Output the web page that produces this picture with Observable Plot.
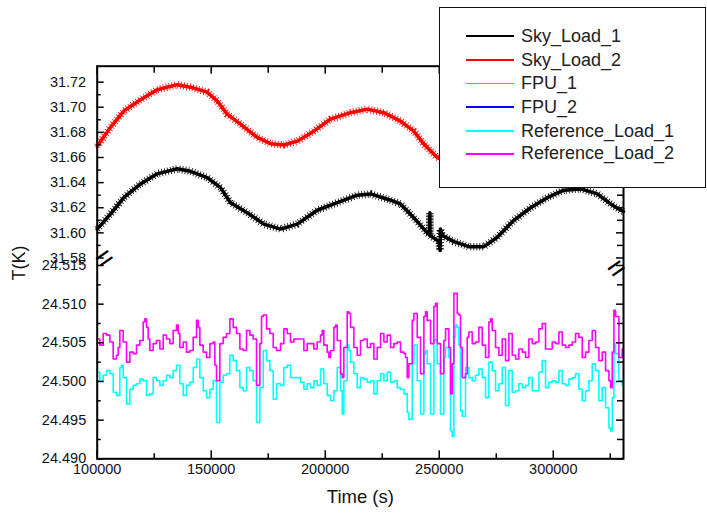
<!DOCTYPE html>
<html><head><meta charset="utf-8">
<script src="https://cdn.jsdelivr.net/npm/d3@7"></script>
<script src="https://cdn.jsdelivr.net/npm/@observablehq/plot@0.6"></script>
<style>
html,body{margin:0;padding:0;background:#fff;overflow:hidden}
#wrap{position:relative;width:707px;height:516px;font-family:"Liberation Sans",Arial,sans-serif}
#wrap svg{position:absolute;left:0;top:0}
#legend{position:absolute;left:439px;top:7px;width:265px;height:179px;border:1.5px solid #111;background:#fff}
.row{position:absolute;left:0;height:24px;display:flex;align-items:center}
.sw{width:48px;height:1.6px;margin-left:26px;margin-right:7px}
.lab{font-size:18px;color:#222;white-space:nowrap}
</style></head>
<body><div id="wrap"><div id="legend"></div></div>
<script>
// ---- series names / colours ----
const seriesNames = ["Sky_Load_1", "Sky_Load_2", "FPU_1", "FPU_2", "Reference_Load_1", "Reference_Load_2"];
const seriesColors = ["#000000", "#ff0000", "#00ff00", "#0000ff", "#00ffff", "#ff00ff"];

// ---- axis ticks ----
const xTicksMajor = [100000, 150000, 200000, 250000, 300000];
const xTicksMinor = [125000, 175000, 225000, 275000, 325000];
const upperTicksMajor = [31.58, 31.60, 31.62, 31.64, 31.66, 31.68, 31.70, 31.72];
const upperTicksMinor = [31.59, 31.61, 31.63, 31.65, 31.67, 31.69, 31.71];
const lowerTicksMajor = [24.490, 24.495, 24.500, 24.505, 24.510, 24.515];
const lowerTicksMinor = [24.4925, 24.4975, 24.5025, 24.5075, 24.5125];
const xDomain = [100000, 330800];
const upperDomain = [31.5764, 31.7327];
const lowerDomain = [24.490, 24.515];

// ---- data: [time (s), T (K)] ----
const skyLoad1 = [
[100000,31.603],[105833,31.615],[111667,31.628],[119000,31.639],[126300,31.647],[135100,31.651],
[140900,31.649],[148250,31.644],[154100,31.636],[158450,31.624],[165800,31.616],[173050,31.607],
[180400,31.603],[187700,31.607],[196500,31.618],[205250,31.624],[214050,31.630],[219900,31.631],
[228650,31.626],[233000,31.623],[238850,31.612],[244750,31.600],[245800,31.598],[245880,31.616],
[245960,31.598],[249900,31.593],[250400,31.586],[250500,31.603],[251300,31.598],[256400,31.593],
[263000,31.589],[269550,31.589],[275450,31.5965],[282700,31.610],[290050,31.620],[297350,31.628],
[304650,31.634],[312100,31.635],[319300,31.631],[325150,31.623],[329550,31.618],[330800,31.617]
];
const skyLoad2 = [
[100000,31.669],[105833,31.684],[111667,31.697],[119000,31.706],[126300,31.714],[135100,31.718],
[140900,31.716],[148250,31.712],[152650,31.705],[157000,31.6945],[162850,31.6866],[170200,31.676],
[176000,31.671],[181850,31.670],[187700,31.673],[195000,31.681],[202300,31.6905],[211100,31.6957],
[218400,31.6985],[225700,31.6957],[233000,31.689],[238850,31.681],[243250,31.6707],[249100,31.660],
[255000,31.655]
];
const refLoad1 = [
[100000,24.5012],[101160,24.5001],[102620,24.5008],[104090,24.5014],[105550,24.5010],[107010,24.4986],
[108470,24.4982],[109930,24.5018],[110670,24.5021],[111400,24.5005],[112860,24.4971],[114320,24.4990],
[115780,24.4995],[117240,24.4997],[118710,24.5003],[120170,24.5001],[121630,24.4982],[123090,24.4984],
[124550,24.5005],[126020,24.5001],[127480,24.4995],[128940,24.5001],[130400,24.5008],[131860,24.5005],
[133330,24.5014],[134790,24.5021],[136250,24.4997],[137710,24.4982],[139170,24.4995],[140640,24.4999],
[142100,24.5018],[143560,24.5029],[145020,24.5005],[146480,24.4988],[147950,24.4979],[149410,24.4990],
[150870,24.5001],[152330,24.4947],[153790,24.4999],[155260,24.5008],[156720,24.5010],[158180,24.5034],
[159640,24.5027],[161100,24.5014],[162570,24.4992],[164030,24.4988],[165490,24.5018],[166950,24.5014],
[168410,24.5001],[169880,24.4947],[171340,24.4992],[172800,24.5040],[174260,24.5027],[175720,24.5014],
[177190,24.4977],[178650,24.4997],[180400,24.4995],[181860,24.5018],[183320,24.5021],[184780,24.5005],
[186240,24.5005],[187710,24.5005],[189170,24.4999],[190630,24.4990],[192090,24.4997],[193550,24.4992],
[195020,24.5001],[196480,24.4995],[197940,24.5016],[199400,24.4997],[200860,24.4982],[202330,24.4975],
[203790,24.4988],[205250,24.5018],[206710,24.4988],[207440,24.4958],[208170,24.5001],[209640,24.5047],
[210370,24.5040],[211100,24.5025],[212560,24.5010],[214020,24.4992],[215480,24.5005],[216950,24.5003],
[218410,24.4999],[219870,24.5001],[221330,24.4984],[222790,24.5001],[224260,24.5010],[225720,24.5001],
[227180,24.5012],[228640,24.4999],[230100,24.5001],[231570,24.4992],[233030,24.4990],[234490,24.4984],
[235950,24.4960],[236680,24.4951],[238150,24.5023],[238880,24.5047],[240340,24.5001],[241800,24.4958],
[243260,24.5036],[243990,24.5040],[244720,24.5023],[246190,24.4958],[247650,24.5053],[248380,24.5055],
[249110,24.5023],[250570,24.4958],[252030,24.5031],[252760,24.5044],[254220,24.5031],[254950,24.4936],
[255680,24.4929],[256420,24.5057],[257150,24.5073],[257880,24.5070],[258610,24.5047],[259340,24.4962],
[260070,24.4955],[261530,24.5018],[262990,24.5005],[264460,24.5001],[265920,24.5008],[267380,24.5016],
[268840,24.5005],[270300,24.4979],[271770,24.5025],[273230,24.5014],[274690,24.4988],[276150,24.4997],
[277610,24.5018],[279080,24.4969],[280540,24.5014],[282000,24.4986],[283460,24.4988],[284920,24.4997],
[286390,24.4992],[287850,24.4995],[289310,24.5005],[290770,24.4988],[292230,24.4988],[293700,24.5012],
[295160,24.5027],[296620,24.4992],[298080,24.4999],[299540,24.5001],[301010,24.4999],[302470,24.5014],
[303930,24.4997],[305390,24.4995],[306850,24.5003],[308320,24.5005],[309780,24.5010],[311240,24.4990],
[312700,24.4975],[314160,24.4988],[315630,24.5001],[317090,24.5023],[318550,24.5014],[320010,24.4975],
[321470,24.4992],[322940,24.4966],[324400,24.4940],[325130,24.4936],[325860,24.4979],[326590,24.5049],
[327320,24.5036],[328780,24.5001],[330250,24.4995],[330800,24.4997]
];
const refLoad2 = [
[100000,24.5055],[101160,24.5047],[102620,24.5062],[104090,24.5060],[105550,24.5051],[107010,24.5029],
[108470,24.5034],[109200,24.5044],[109930,24.5066],[110670,24.5066],[111400,24.5051],[112860,24.5025],
[114320,24.5038],[115780,24.5036],[117240,24.5047],[118710,24.5053],[120170,24.5077],[120900,24.5081],
[121630,24.5070],[122360,24.5055],[123090,24.5040],[124550,24.5049],[126020,24.5053],[127480,24.5042],
[128940,24.5060],[130400,24.5055],[131860,24.5049],[133330,24.5066],[134790,24.5073],[135520,24.5062],
[136250,24.5044],[137710,24.5051],[139170,24.5038],[140640,24.5040],[142100,24.5057],[143560,24.5079],
[144290,24.5070],[145020,24.5047],[146480,24.5038],[147950,24.5031],[149410,24.5049],[150870,24.5051],
[151600,24.5021],[152330,24.5001],[153790,24.5049],[155260,24.5057],[156720,24.5062],[158180,24.5081],
[159640,24.5070],[161100,24.5062],[162570,24.5042],[164030,24.5040],[165490,24.5066],[166950,24.5060],
[168410,24.5055],[169880,24.4995],[171340,24.5049],[172070,24.5084],[172800,24.5086],[174260,24.5068],
[175720,24.5062],[177190,24.5044],[178650,24.5040],[180400,24.5049],[181860,24.5068],[183320,24.5062],
[184780,24.5051],[186240,24.5055],[187710,24.5055],[189170,24.5055],[190630,24.5040],[192090,24.5049],
[193550,24.5049],[195020,24.5042],[196480,24.5051],[197940,24.5060],[198670,24.5066],[199400,24.5047],
[200860,24.5038],[201600,24.5031],[202330,24.5040],[203790,24.5070],[204520,24.5073],[205250,24.5053],
[206710,24.5010],[207440,24.5005],[208170,24.5044],[209640,24.5090],[210370,24.5088],[211100,24.5070],
[212560,24.5044],[214020,24.5034],[215480,24.5053],[216950,24.5055],[218410,24.5044],[219870,24.5049],
[221330,24.5029],[222790,24.5044],[224260,24.5062],[225720,24.5051],[227180,24.5060],[228640,24.5044],
[230100,24.5049],[231570,24.5051],[233030,24.5038],[234490,24.5036],[235220,24.5031],[235950,24.5005],
[236680,24.5023],[238150,24.5079],[238880,24.5088],[240340,24.5057],[241800,24.5010],[243260,24.5084],
[243990,24.5090],[244720,24.5079],[246190,24.5049],[247650,24.5097],[248380,24.5101],[249110,24.5049],
[250570,24.5010],[252030,24.5053],[252760,24.5068],[254220,24.5044],[254950,24.4984],[255680,24.5023],
[256420,24.5114],[257150,24.5114],[257880,24.5088],[258610,24.5086],[259340,24.5044],[260070,24.5005],
[261530,24.5010],[262260,24.5057],[262990,24.5064],[264460,24.5049],[265920,24.5051],[267380,24.5070],
[268840,24.5047],[270300,24.5031],[271770,24.5077],[272500,24.5081],[273230,24.5066],[274690,24.5044],
[276150,24.5034],[277610,24.5055],[279080,24.5027],[280540,24.5062],[282000,24.5034],[283460,24.5029],
[284920,24.5042],[286390,24.5038],[287850,24.5031],[289310,24.5055],[290770,24.5049],[292230,24.5051],
[293700,24.5068],[295160,24.5075],[296620,24.5042],[298080,24.5042],[299540,24.5051],[301010,24.5049],
[302470,24.5064],[303930,24.5047],[305390,24.5044],[306850,24.5047],[308320,24.5051],[309780,24.5062],
[311240,24.5057],[312700,24.5031],[314160,24.5038],[315630,24.5053],[317090,24.5066],[318550,24.5044],
[320010,24.5027],[321470,24.5038],[322940,24.5014],[324400,24.5001],[325130,24.4992],[325860,24.5038],
[326590,24.5092],[327320,24.5084],[328780,24.5031],[330250,24.5042],[330800,24.5042]
];

// ---- layout ----
const W = 707, H = 516;
const mL = 96.7, mR = 84, mT = 65.7, mB = 57.7;
const PW = W - mL - mR, PH = H - mT - mB;
const yTopLower = 265, yBottomUpper = 262;

const fmt2 = d3.format(".2f"), fmt3 = d3.format(".3f"), fmtX = d3.format("d");
const tickLabel = {fill: "#111", fontSize: 14.5};
const xy = {x: d => d[0], y: d => d[1]};

const plot = Plot.plot({
  width: W, height: H,
  marginLeft: mL, marginRight: mR, marginTop: mT, marginBottom: mB,
  style: {fontFamily: "'Liberation Sans', Arial, sans-serif", background: "transparent", color: "#000", overflow: "visible"},
  x: {domain: xDomain, range: [mL, W - mR], axis: null},
  y: {type: "linear", domain: [lowerDomain[0], lowerDomain[1], upperDomain[0], upperDomain[1]],
      range: [H - mB, yTopLower, yBottomUpper, mT], axis: null},
  marks: [
    // data: upper (noisy band = core line + dashed jitter)
    Plot.line(skyLoad1, {...xy, stroke: seriesColors[0], strokeWidth: 3.5}),
    Plot.line(skyLoad1, {...xy, stroke: seriesColors[0], strokeWidth: 7.5, strokeDasharray: "0.8 2.2", strokeLinecap: "butt"}),
    Plot.line(skyLoad2, {...xy, stroke: seriesColors[1], strokeWidth: 3.5}),
    Plot.line(skyLoad2, {...xy, stroke: seriesColors[1], strokeWidth: 7.5, strokeDasharray: "0.8 2.2", strokeLinecap: "butt"}),
    // data: lower
    Plot.line(refLoad1, {...xy, stroke: seriesColors[4], strokeWidth: 1.6, curve: "step-after"}),
    Plot.line(refLoad2, {...xy, stroke: seriesColors[5], strokeWidth: 1.6, curve: "step-after"}),
    // frame
    Plot.frame({stroke: "#000", strokeWidth: 2}),
    // inward ticks, left and right
    Plot.ruleY([...upperTicksMajor, ...lowerTicksMajor], {y: d => d, insetRight: PW - 7, stroke: "#000", strokeWidth: 1.5}),
    Plot.ruleY([...upperTicksMinor, ...lowerTicksMinor], {y: d => d, insetRight: PW - 4, stroke: "#000", strokeWidth: 1.5}),
    Plot.ruleY([...upperTicksMajor, ...lowerTicksMajor], {y: d => d, insetLeft: PW - 7, stroke: "#000", strokeWidth: 1.5}),
    Plot.ruleY([...upperTicksMinor, ...lowerTicksMinor], {y: d => d, insetLeft: PW - 6, stroke: "#000", strokeWidth: 1.5}),
    // inward ticks, bottom and top
    Plot.ruleX(xTicksMajor, {x: d => d, insetTop: PH - 8, stroke: "#000", strokeWidth: 1.5}),
    Plot.ruleX(xTicksMinor, {x: d => d, insetTop: PH - 5, stroke: "#000", strokeWidth: 1.5}),
    Plot.ruleX(xTicksMajor, {x: d => d, insetBottom: PH - 8, stroke: "#000", strokeWidth: 1.5}),
    Plot.ruleX(xTicksMinor, {x: d => d, insetBottom: PH - 7, stroke: "#000", strokeWidth: 1.5}),
    // tick labels
    Plot.text(upperTicksMajor, {y: d => d, text: d => fmt2(d), frameAnchor: "left", textAnchor: "end", dx: -11, ...tickLabel}),
    Plot.text(lowerTicksMajor, {y: d => d, text: d => fmt3(d), frameAnchor: "left", textAnchor: "end", dx: -11, ...tickLabel}),
    Plot.text(xTicksMajor, {x: d => d, text: d => fmtX(d), frameAnchor: "bottom", dy: 15, ...tickLabel}),
    // axis break marks
    Plot.text([lowerDomain[1]], {y: d => d, text: () => "=", frameAnchor: "left", rotate: -35, fontSize: 30, dy: -2, fill: "#000"}),
    Plot.text([lowerDomain[1]], {y: d => d, text: () => "=", frameAnchor: "right", rotate: -35, fontSize: 30, dy: -2, fill: "#000"}),
    // axis titles
    Plot.text(["Time (s)"], {frameAnchor: "bottom", dy: 44, fontSize: 18.5, fill: "#111"}),
    Plot.text(["T(K)"], {frameAnchor: "left", rotate: -90, dx: -78, dy: 18, fontSize: 18, fill: "#111"})
  ]
});
document.getElementById("wrap").insertBefore(plot, document.getElementById("legend"));

// ---- legend ----
const legend = d3.select("#legend");
const rowCenters = [28.2, 52.2, 75.5, 99.2, 123.2, 145.8];
seriesNames.forEach((name, i) => {
  const row = legend.append("div").attr("class", "row").style("top", (rowCenters[i] - 12) + "px");
  row.append("div").attr("class", "sw").style("background", seriesColors[i]);
  row.append("span").attr("class", "lab").text(name);
});
</script></body></html>
